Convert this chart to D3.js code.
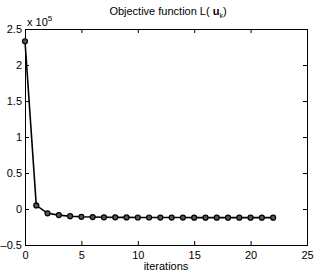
<!DOCTYPE html>
<html>
<head>
<meta charset="utf-8">
<script src="https://cdn.jsdelivr.net/npm/d3@7"></script>
<style>
  body { margin: 0; background: #fff; }
  svg text { font-family: "Liberation Sans", Arial, sans-serif; fill: #000; }
</style>
</head>
<body>
<div id="chart"></div>
<script>
// iterations and objective value (x 10^5)
const iterations = [0, 1, 2, 3, 4, 5, 6, 7, 8, 9, 10, 11, 12, 13, 14, 15, 16, 17, 18, 19, 20, 21, 22];
const objective = [2.33, 0.05, -0.06, -0.085, -0.1, -0.108, -0.112, -0.115, -0.116, -0.117, -0.118, -0.118,
  -0.119, -0.119, -0.119, -0.12, -0.12, -0.12, -0.12, -0.12, -0.12, -0.12, -0.12];
const xTicks = [0, 5, 10, 15, 20, 25];
const yTicks = [-0.5, 0, 0.5, 1, 1.5, 2, 2.5];

const width = 316, height = 274;
const margin = { top: 29, right: 9, bottom: 29, left: 25 };

const svg = d3.select("#chart").append("svg")
  .attr("width", width)
  .attr("height", height);

const x = d3.scaleLinear().domain([0, 25]).range([margin.left, width - margin.right]);
const y = d3.scaleLinear().domain([-0.5, 2.5]).range([height - margin.bottom, margin.top]);

const fmt = d => String(d).replace("-", "\u2013");

// axes box with inward ticks
const axBottom = d3.axisBottom(x).tickValues(xTicks).tickSize(-4).tickPadding(6).tickFormat(fmt);
const axTop = d3.axisTop(x).tickValues(xTicks).tickSize(-4).tickFormat("");
const axLeft = d3.axisLeft(y).tickValues(yTicks).tickSize(-4).tickPadding(3).tickFormat(fmt);
const axRight = d3.axisRight(y).tickValues(yTicks).tickSize(-4).tickFormat("");

function styleAxis(g) {
  g.select(".domain").attr("stroke", "#000").attr("stroke-width", 1);
  g.selectAll(".tick line").attr("stroke", "#000");
  g.selectAll("text").style("font-size", "11px").attr("fill", "#000");
}

svg.append("g").attr("transform", `translate(0,${height - margin.bottom})`).call(axBottom).call(styleAxis);
svg.append("g").attr("transform", `translate(0,${margin.top})`).call(axTop).call(styleAxis);
svg.append("g").attr("transform", `translate(${margin.left},0)`).call(axLeft).call(styleAxis);
svg.append("g").attr("transform", `translate(${width - margin.right},0)`).call(axRight).call(styleAxis);

// line + markers
const pts = iterations.map((it, i) => ({ x: it, y: objective[i] }));
svg.append("path")
  .datum(pts)
  .attr("fill", "none")
  .attr("stroke", "#000")
  .attr("stroke-width", 1.6)
  .attr("d", d3.line().x(d => x(d.x)).y(d => y(d.y)));

svg.selectAll("circle.pt")
  .data(pts)
  .enter()
  .append("circle")
  .attr("class", "pt")
  .attr("cx", d => x(d.x))
  .attr("cy", d => y(d.y))
  .attr("r", 2.5)
  .attr("fill", "#555")
  .attr("stroke", "#000")
  .attr("stroke-width", 1.2);

// exponent label
const ex = svg.append("text")
  .attr("x", margin.left + 2)
  .attr("y", margin.top - 3)
  .style("font-size", "11px");
ex.append("tspan").text("x 10");
ex.append("tspan").attr("dy", "-5").style("font-size", "8px").text("5");

// title
const t = svg.append("text")
  .attr("x", 168)
  .attr("y", 15)
  .attr("text-anchor", "middle")
  .style("font-size", "11px");
t.append("tspan").text("Objective function L( ");
t.append("tspan").style("font-weight", "bold").text("u");
t.append("tspan").attr("dy", "3").style("font-size", "7px").text("k");
t.append("tspan").attr("dy", "-3").text(")");

// x label
svg.append("text")
  .attr("x", 166)
  .attr("y", height - 4)
  .attr("text-anchor", "middle")
  .style("font-size", "11px")
  .text("iterations");
</script>
</body>
</html>
